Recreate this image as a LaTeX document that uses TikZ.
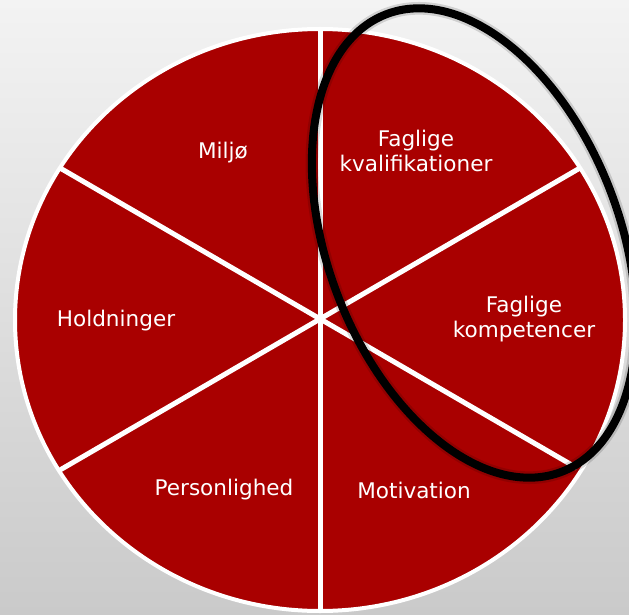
\documentclass[tikz,border=0pt]{standalone}
\usepackage{fontspec}
\setmainfont{DejaVu Sans}
\usepackage{xcolor}
\definecolor{cRed}{HTML}{A90000}
\definecolor{cBgTop}{HTML}{F3F3F3}
\definecolor{cBgBot}{HTML}{CACACA}
\usepackage{tikz}
\usetikzlibrary{positioning,calc}
\tikzset{
  wheel-disc/.style={fill=cRed,draw=white,line width=1.2mm},
  wheel-split/.style={draw=white,line width=1.5mm},
  wheel-label/.style={text=white,align=center,inner sep=0pt,
    font=\fontsize{18.4}{21.6}\selectfont},
  mark-ring/.style={draw=black,line width=2.4mm},
  mark-shadow/.style={draw=black,opacity=0.07,line width=3.8mm},
}

\begin{document}
\begin{tikzpicture}[x=0.3mm,y=0.3mm]
  % background
  \shade[top color=cBgTop,bottom color=cBgBot] (0,0) rectangle (629,614);
  \useasboundingbox (0,0) rectangle (629,614);

  % wheel
  \coordinate (c)  at (320,294);
  \coordinate (top) at (320,585);
  \coordinate (bot) at (320,3);
  \coordinate (ul) at (60,446);
  \coordinate (lr) at (577,146);
  \coordinate (ll) at (60,144);
  \coordinate (ur) at (580,446);
  \draw[wheel-disc] (c) ellipse (305 and 291);
  \draw[wheel-split] (top) -- (bot);
  \draw[wheel-split] (ul) -- (lr);
  \draw[wheel-split] (ll) -- (ur);

  % labels
  \node[wheel-label] (env)  at (223,461) {Miljø};
  \node[wheel-label] (qual) at (416,463) {Faglige\\kvalifikationer};
  \node[wheel-label] (att)  at (116,293) {Holdninger};
  \node[wheel-label] (comp) at (524,295) {Faglige\\kompetencer};
  \node[wheel-label] (pers) at (224,124) {Personlighed};
  \node[wheel-label] (mot)  at (414,124) {Motivation};

  % highlight ring
  \coordinate (rc) at (474,371);
  \draw[mark-shadow,shift={(1,-4)},rotate around={21:(rc)}] (rc) ellipse (146 and 245);
  \draw[mark-shadow,shift={(1,-2)},rotate around={21:(rc)}] (rc) ellipse (146 and 245);
  \draw[mark-ring,rotate around={21:(rc)}] (rc) ellipse (146 and 245);
\end{tikzpicture}
\end{document}
